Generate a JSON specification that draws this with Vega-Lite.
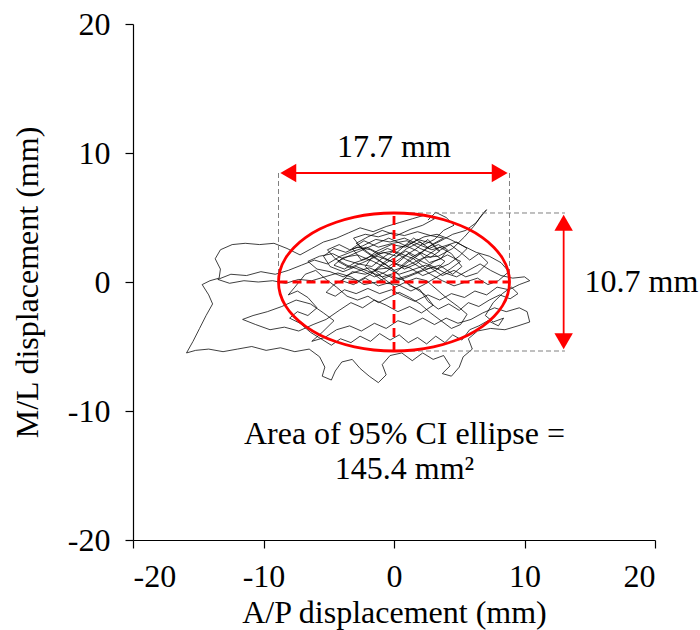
{
  "$schema": "https://vega.github.io/schema/vega-lite/v6.json",
  "autosize": "none",
  "width": 522,
  "height": 516,
  "padding": {"left": 133, "top": 24, "right": 45, "bottom": 90},
  "background": "white",
  "config": {
    "view": {"stroke": null},
    "font": "Liberation Serif",
    "axis": {
      "domainColor": "black", "tickColor": "black", "domainWidth": 1.2, "tickWidth": 1.2,
      "tickSize": 8, "grid": false, "labelFont": "Liberation Serif", "labelFontSize": 32,
      "labelColor": "black", "titleFont": "Liberation Serif", "titleFontSize": 32,
      "titleFontWeight": "normal", "titleColor": "black", "labelPadding": 13
    }
  },
  "datasets": {
    "path": [
      {"i":0,"x":0.5,"y":1.2},{"i":1,"x":1.2,"y":1.8},{"i":2,"x":2.0,"y":2.3},{"i":3,"x":2.8,"y":1.9},{"i":4,"x":3.5,"y":2.4},{"i":5,"x":2.9,"y":3.0},{"i":6,"x":1.8,"y":3.3},{"i":7,"x":0.9,"y":2.7},{"i":8,"x":-0.2,"y":2.9},{"i":9,"x":-1.3,"y":2.4},
      {"i":10,"x":-2.1,"y":1.8},{"i":11,"x":-3.0,"y":1.5},{"i":12,"x":-3.8,"y":1.0},{"i":13,"x":-4.6,"y":1.3},{"i":14,"x":-3.9,"y":1.9},{"i":15,"x":-2.8,"y":2.1},{"i":16,"x":-1.6,"y":1.6},{"i":17,"x":-0.6,"y":1.1},{"i":18,"x":0.4,"y":0.6},{"i":19,"x":1.3,"y":0.9},
      {"i":20,"x":2.4,"y":1.3},{"i":21,"x":3.3,"y":1.0},{"i":22,"x":4.2,"y":1.4},{"i":23,"x":5.0,"y":2.0},{"i":24,"x":5.6,"y":2.6},{"i":25,"x":4.8,"y":3.1},{"i":26,"x":3.9,"y":2.8},{"i":27,"x":2.9,"y":2.5},{"i":28,"x":1.9,"y":2.9},{"i":29,"x":0.8,"y":3.4},
      {"i":30,"x":-0.3,"y":3.1},{"i":31,"x":-1.4,"y":3.3},{"i":32,"x":-2.4,"y":2.8},{"i":33,"x":-3.4,"y":2.5},{"i":34,"x":-4.2,"y":2.9},{"i":35,"x":-5.1,"y":2.5},{"i":36,"x":-4.5,"y":1.8},{"i":37,"x":-3.6,"y":1.3},{"i":38,"x":-2.5,"y":0.9},{"i":39,"x":-1.5,"y":0.4},
      {"i":40,"x":-0.6,"y":0.8},{"i":41,"x":0.3,"y":1.5},{"i":42,"x":1.1,"y":2.2},{"i":43,"x":2.1,"y":1.6},{"i":44,"x":3.0,"y":1.2},{"i":45,"x":3.9,"y":0.7},{"i":46,"x":4.8,"y":0.4},{"i":47,"x":5.7,"y":0.9},{"i":48,"x":6.6,"y":1.4},{"i":49,"x":7.4,"y":0.9},
      {"i":50,"x":8.2,"y":0.5},{"i":51,"x":9.1,"y":0.3},{"i":52,"x":10.0,"y":0.4},{"i":53,"x":10.4,"y":0.1},{"i":54,"x":9.6,"y":-0.2},{"i":55,"x":8.8,"y":-0.6},{"i":56,"x":7.9,"y":-0.4},{"i":57,"x":7.1,"y":-1.0},{"i":58,"x":6.2,"y":-0.7},{"i":59,"x":5.4,"y":-1.2},
      {"i":60,"x":4.4,"y":-0.9},{"i":61,"x":3.5,"y":-1.4},{"i":62,"x":2.6,"y":-1.0},{"i":63,"x":1.6,"y":-1.5},{"i":64,"x":0.7,"y":-1.1},{"i":65,"x":-0.2,"y":-0.6},{"i":66,"x":-1.1,"y":-0.9},{"i":67,"x":-2.0,"y":-0.5},{"i":68,"x":-2.9,"y":-0.9},{"i":69,"x":-3.8,"y":-0.6},
      {"i":70,"x":-4.5,"y":-1.1},{"i":71,"x":-5.2,"y":-0.8},{"i":72,"x":-4.6,"y":-0.2},{"i":73,"x":-3.7,"y":0.3},{"i":74,"x":-2.7,"y":0.1},{"i":75,"x":-1.8,"y":0.6},{"i":76,"x":-0.9,"y":1.3},{"i":77,"x":0.1,"y":1.9},{"i":78,"x":0.9,"y":2.4},{"i":79,"x":1.7,"y":2.0},
      {"i":80,"x":2.6,"y":2.7},{"i":81,"x":3.6,"y":3.2},{"i":82,"x":4.5,"y":3.7},{"i":83,"x":5.5,"y":4.0},{"i":84,"x":6.3,"y":4.6},{"i":85,"x":6.8,"y":5.3},{"i":86,"x":7.1,"y":5.6},{"i":87,"x":6.6,"y":5.0},{"i":88,"x":6.1,"y":4.3},{"i":89,"x":5.4,"y":3.5},
      {"i":90,"x":4.5,"y":2.6},{"i":91,"x":3.4,"y":2.0},{"i":92,"x":2.3,"y":1.9},{"i":93,"x":1.1,"y":1.3},{"i":94,"x":0.0,"y":0.9},{"i":95,"x":-1.0,"y":1.6},{"i":96,"x":-2.0,"y":2.3},{"i":97,"x":-2.9,"y":3.0},{"i":98,"x":-2.0,"y":3.5},{"i":99,"x":-0.9,"y":4.0},
      {"i":100,"x":0.2,"y":3.6},{"i":101,"x":1.3,"y":4.1},{"i":102,"x":2.2,"y":4.4},{"i":103,"x":3.1,"y":4.9},{"i":104,"x":2.4,"y":5.2},{"i":105,"x":1.4,"y":4.9},{"i":106,"x":0.4,"y":4.6},{"i":107,"x":-0.6,"y":4.3},{"i":108,"x":-1.6,"y":3.9},{"i":109,"x":-2.6,"y":4.2},
      {"i":110,"x":-3.5,"y":3.8},{"i":111,"x":-4.4,"y":3.4},{"i":112,"x":-5.4,"y":3.1},{"i":113,"x":-6.3,"y":2.6},{"i":114,"x":-7.2,"y":2.1},{"i":115,"x":-8.2,"y":2.6},{"i":116,"x":-9.2,"y":3.0},{"i":117,"x":-10.3,"y":2.9},{"i":118,"x":-11.4,"y":3.0},{"i":119,"x":-12.4,"y":2.9},
      {"i":120,"x":-13.3,"y":2.5},{"i":121,"x":-13.7,"y":1.8},{"i":122,"x":-13.3,"y":1.0},{"i":123,"x":-13.4,"y":0.3},{"i":124,"x":-14.1,"y":0.1},{"i":125,"x":-14.7,"y":-0.2},{"i":126,"x":-14.2,"y":-1.0},{"i":127,"x":-13.9,"y":-1.7},{"i":128,"x":-14.4,"y":-2.6},{"i":129,"x":-14.9,"y":-3.6},
      {"i":130,"x":-15.4,"y":-4.6},{"i":131,"x":-15.9,"y":-5.5},{"i":132,"x":-15.2,"y":-5.3},{"i":133,"x":-14.2,"y":-5.2},{"i":134,"x":-13.1,"y":-5.4},{"i":135,"x":-12.0,"y":-5.2},{"i":136,"x":-10.9,"y":-5.0},{"i":137,"x":-9.8,"y":-5.3},{"i":138,"x":-8.7,"y":-5.1},{"i":139,"x":-7.6,"y":-5.4},
      {"i":140,"x":-6.5,"y":-5.2},{"i":141,"x":-5.7,"y":-5.8},{"i":142,"x":-5.3,"y":-6.6},{"i":143,"x":-5.5,"y":-7.3},{"i":144,"x":-4.8,"y":-7.6},{"i":145,"x":-4.5,"y":-6.9},{"i":146,"x":-4.0,"y":-6.2},{"i":147,"x":-3.2,"y":-6.0},{"i":148,"x":-2.6,"y":-6.7},{"i":149,"x":-1.9,"y":-7.3},
      {"i":150,"x":-1.2,"y":-7.8},{"i":151,"x":-0.6,"y":-7.2},{"i":152,"x":-0.9,"y":-6.4},{"i":153,"x":-0.3,"y":-5.7},{"i":154,"x":0.6,"y":-5.5},{"i":155,"x":1.4,"y":-6.1},{"i":156,"x":2.2,"y":-5.5},{"i":157,"x":3.0,"y":-6.0},{"i":158,"x":3.8,"y":-5.7},{"i":159,"x":4.3,"y":-6.5},
      {"i":160,"x":3.7,"y":-7.1},{"i":161,"x":4.4,"y":-7.3},{"i":162,"x":5.0,"y":-6.6},{"i":163,"x":5.3,"y":-5.8},{"i":164,"x":6.0,"y":-5.2},{"i":165,"x":5.7,"y":-4.4},{"i":166,"x":6.4,"y":-3.8},{"i":167,"x":7.4,"y":-3.6},{"i":168,"x":8.5,"y":-3.7},{"i":169,"x":9.5,"y":-3.4},
      {"i":170,"x":10.4,"y":-3.1},{"i":171,"x":10.2,"y":-2.3},{"i":172,"x":9.6,"y":-2.0},{"i":173,"x":8.6,"y":-2.3},{"i":174,"x":7.7,"y":-2.0},{"i":175,"x":6.8,"y":-2.4},{"i":176,"x":5.9,"y":-2.9},{"i":177,"x":4.9,"y":-3.2},{"i":178,"x":4.0,"y":-2.8},{"i":179,"x":3.1,"y":-3.3},
      {"i":180,"x":2.2,"y":-2.8},{"i":181,"x":1.2,"y":-3.3},{"i":182,"x":0.3,"y":-3.0},{"i":183,"x":-0.6,"y":-3.6},{"i":184,"x":-1.5,"y":-3.2},{"i":185,"x":-2.5,"y":-3.8},{"i":186,"x":-3.4,"y":-3.4},{"i":187,"x":-4.4,"y":-3.7},{"i":188,"x":-5.3,"y":-4.3},{"i":189,"x":-6.3,"y":-4.6},
      {"i":190,"x":-5.5,"y":-3.9},{"i":191,"x":-4.6,"y":-3.0},{"i":192,"x":-5.4,"y":-2.4},{"i":193,"x":-6.4,"y":-1.7},{"i":194,"x":-7.5,"y":-1.4},{"i":195,"x":-8.6,"y":-1.9},{"i":196,"x":-9.7,"y":-2.3},{"i":197,"x":-10.8,"y":-2.6},{"i":198,"x":-11.6,"y":-2.9},{"i":199,"x":-10.6,"y":-3.3},
      {"i":200,"x":-9.5,"y":-3.7},{"i":201,"x":-8.4,"y":-3.5},{"i":202,"x":-7.3,"y":-3.8},{"i":203,"x":-6.2,"y":-3.3},{"i":204,"x":-5.2,"y":-2.9},{"i":205,"x":-4.2,"y":-2.2},{"i":206,"x":-3.3,"y":-1.6},{"i":207,"x":-2.4,"y":-2.0},{"i":208,"x":-1.5,"y":-1.4},{"i":209,"x":-0.6,"y":-1.8},
      {"i":210,"x":0.3,"y":-2.3},{"i":211,"x":1.2,"y":-1.9},{"i":212,"x":2.1,"y":-2.4},{"i":213,"x":3.0,"y":-1.8},{"i":214,"x":2.4,"y":-1.0},{"i":215,"x":1.5,"y":-0.4},{"i":216,"x":0.6,"y":0.2},{"i":217,"x":-0.3,"y":0.5},{"i":218,"x":-1.3,"y":0.0},{"i":219,"x":-2.3,"y":-0.2},
      {"i":220,"x":-3.3,"y":0.4},{"i":221,"x":-4.3,"y":0.7},{"i":222,"x":-5.3,"y":0.4},{"i":223,"x":-6.3,"y":0.1},{"i":224,"x":-7.3,"y":0.2},{"i":225,"x":-8.3,"y":-0.1},{"i":226,"x":-9.3,"y":0.1},{"i":227,"x":-10.4,"y":0.0},{"i":228,"x":-11.5,"y":0.1},{"i":229,"x":-12.6,"y":-0.1},
      {"i":230,"x":-13.5,"y":0.2},{"i":231,"x":-12.5,"y":0.6},{"i":232,"x":-11.3,"y":0.5},{"i":233,"x":-10.2,"y":0.8},{"i":234,"x":-9.1,"y":0.6},{"i":235,"x":-8.1,"y":0.9},{"i":236,"x":-7.1,"y":1.3},{"i":237,"x":-6.1,"y":1.7},{"i":238,"x":-5.1,"y":1.4},{"i":239,"x":-4.1,"y":2.0},
      {"i":240,"x":-3.1,"y":2.4},{"i":241,"x":-2.1,"y":2.7},{"i":242,"x":-1.1,"y":2.2},{"i":243,"x":-0.1,"y":2.4},{"i":244,"x":0.9,"y":1.8},{"i":245,"x":1.9,"y":1.2},{"i":246,"x":2.8,"y":0.6},{"i":247,"x":3.7,"y":0.1},{"i":248,"x":4.6,"y":-0.3},{"i":249,"x":5.5,"y":0.0},
      {"i":250,"x":6.4,"y":0.3},{"i":251,"x":7.2,"y":-0.2},{"i":252,"x":8.0,"y":0.1},{"i":253,"x":8.8,"y":0.8},{"i":254,"x":8.2,"y":1.5},{"i":255,"x":7.3,"y":2.0},{"i":256,"x":6.3,"y":2.3},{"i":257,"x":5.3,"y":2.8},{"i":258,"x":4.3,"y":3.3},{"i":259,"x":3.3,"y":3.7},
      {"i":260,"x":2.3,"y":3.5},{"i":261,"x":1.3,"y":3.0},{"i":262,"x":0.3,"y":2.6},{"i":263,"x":-0.7,"y":2.0},{"i":264,"x":-1.7,"y":1.2},{"i":265,"x":-2.7,"y":1.4},{"i":266,"x":-3.7,"y":1.7},{"i":267,"x":-4.7,"y":2.2},{"i":268,"x":-5.7,"y":2.0},{"i":269,"x":-6.6,"y":1.6},
      {"i":270,"x":-5.9,"y":1.0},{"i":271,"x":-4.9,"y":0.8},{"i":272,"x":-3.9,"y":0.4},{"i":273,"x":-2.9,"y":0.8},{"i":274,"x":-1.9,"y":1.1},{"i":275,"x":-0.9,"y":0.7},{"i":276,"x":0.1,"y":0.2},{"i":277,"x":1.1,"y":0.5},{"i":278,"x":2.1,"y":0.9},{"i":279,"x":3.1,"y":1.6},
      {"i":280,"x":4.1,"y":2.1},{"i":281,"x":5.1,"y":1.6},{"i":282,"x":4.3,"y":1.0},{"i":283,"x":3.3,"y":0.4},{"i":284,"x":2.3,"y":-0.2},{"i":285,"x":1.3,"y":-0.7},{"i":286,"x":0.3,"y":-0.2},{"i":287,"x":-0.6,"y":-0.1},
      {"i":288,"x":-1.4,"y":0.5},{"i":289,"x":-2.2,"y":1.2},{"i":290,"x":-1.7,"y":1.9},{"i":291,"x":-0.8,"y":2.3},{"i":292,"x":0.2,"y":2.0},{"i":293,"x":1.0,"y":2.6},{"i":294,"x":2.0,"y":3.1},{"i":295,"x":2.7,"y":2.6},{"i":296,"x":3.4,"y":2.9},{"i":297,"x":4.1,"y":2.5},
      {"i":298,"x":3.6,"y":1.8},{"i":299,"x":2.7,"y":1.5},{"i":300,"x":1.8,"y":2.4},{"i":301,"x":0.7,"y":2.9},{"i":302,"x":-0.4,"y":3.4},{"i":303,"x":-1.5,"y":2.9},{"i":304,"x":-2.6,"y":2.4},{"i":305,"x":-3.5,"y":2.0},{"i":306,"x":-4.3,"y":1.6},{"i":307,"x":-3.4,"y":1.1},
      {"i":308,"x":-2.4,"y":1.5},{"i":309,"x":-1.3,"y":2.0},{"i":310,"x":-0.2,"y":1.6},{"i":311,"x":0.8,"y":1.0},{"i":312,"x":1.7,"y":1.4},{"i":313,"x":2.6,"y":2.1},{"i":314,"x":3.5,"y":2.7},{"i":315,"x":4.4,"y":2.2},{"i":316,"x":5.2,"y":1.2},{"i":317,"x":4.5,"y":0.6},
      {"i":318,"x":3.5,"y":1.3},{"i":319,"x":2.5,"y":1.0},{"i":320,"x":1.5,"y":1.8},{"i":321,"x":0.5,"y":2.2},{"i":322,"x":-0.5,"y":2.6},{"i":323,"x":-1.5,"y":2.1},{"i":324,"x":-2.5,"y":1.7},{"i":325,"x":-3.2,"y":2.6},{"i":326,"x":-2.3,"y":3.2},{"i":327,"x":-1.2,"y":2.7},
      {"i":328,"x":-0.1,"y":3.0},{"i":329,"x":1.0,"y":3.2},{"i":330,"x":2.0,"y":2.6},{"i":331,"x":3.0,"y":2.2},{"i":332,"x":3.9,"y":1.6},{"i":333,"x":3.2,"y":0.9},{"i":334,"x":2.2,"y":0.5},{"i":335,"x":1.2,"y":1.1},{"i":336,"x":0.2,"y":1.4},{"i":337,"x":-0.8,"y":1.9},
      {"i":338,"x":-1.8,"y":2.5},{"i":339,"x":-2.8,"y":2.7},{"i":340,"x":-3.7,"y":2.3},{"i":341,"x":-4.6,"y":2.6},{"i":342,"x":-5.4,"y":2.0},{"i":343,"x":-4.9,"y":1.2},{"i":344,"x":-3.9,"y":0.8},{"i":345,"x":-2.9,"y":1.2},{"i":346,"x":-1.9,"y":0.8},{"i":347,"x":-0.9,"y":0.4},
      {"i":348,"x":0.1,"y":0.7},{"i":349,"x":1.0,"y":1.5},{"i":350,"x":1.9,"y":2.1},{"i":351,"x":2.9,"y":2.9},{"i":352,"x":3.8,"y":3.4},{"i":353,"x":2.8,"y":3.6},{"i":354,"x":1.8,"y":3.9},{"i":355,"x":0.8,"y":3.6},{"i":356,"x":-0.2,"y":3.8},{"i":357,"x":-1.2,"y":3.5},
      {"i":358,"x":-2.2,"y":3.7},{"i":359,"x":-3.1,"y":3.4},{"i":360,"x":-2.4,"y":2.5},{"i":361,"x":-1.4,"y":1.8},{"i":362,"x":-0.4,"y":1.2},{"i":363,"x":0.6,"y":1.9},{"i":364,"x":1.6,"y":2.5},{"i":365,"x":2.6,"y":3.3},{"i":366,"x":3.4,"y":2.4},{"i":367,"x":4.3,"y":2.9},
      {"i":368,"x":5.1,"y":2.3},{"i":369,"x":5.8,"y":1.7},{"i":370,"x":6.5,"y":2.2},{"i":371,"x":7.2,"y":1.5},{"i":372,"x":6.4,"y":0.7},{"i":373,"x":5.5,"y":0.4},{"i":374,"x":4.6,"y":0.9},{"i":375,"x":3.7,"y":0.5},{"i":376,"x":2.8,"y":1.1},{"i":377,"x":1.8,"y":0.7},
      {"i":378,"x":0.8,"y":0.3},{"i":379,"x":-0.2,"y":0.0},{"i":380,"x":-1.2,"y":-0.3},{"i":381,"x":-2.2,"y":0.3},{"i":382,"x":-3.1,"y":-0.2},{"i":383,"x":-4.0,"y":0.1},{"i":384,"x":-3.2,"y":0.8},{"i":385,"x":-2.2,"y":0.6},{"i":386,"x":-1.2,"y":1.0},{"i":387,"x":-0.2,"y":1.1},
      {"i":388,"x":0.5,"y":0.4},{"i":389,"x":1.2,"y":-0.3},{"i":390,"x":2.0,"y":-0.6},{"i":391,"x":2.6,"y":-1.5},{"i":392,"x":3.4,"y":-2.1},{"i":393,"x":4.2,"y":-1.7},{"i":394,"x":5.0,"y":-2.2},{"i":395,"x":5.7,"y":-1.6},{"i":396,"x":6.5,"y":-1.9},{"i":397,"x":7.3,"y":-1.4},
      {"i":398,"x":8.1,"y":-1.0},{"i":399,"x":8.9,"y":-1.3},{"i":400,"x":9.5,"y":-0.9},{"i":401,"x":9.0,"y":-0.4},{"i":402,"x":8.3,"y":-0.9},{"i":403,"x":7.6,"y":-1.6},{"i":404,"x":7.0,"y":-2.6},{"i":405,"x":7.6,"y":-3.1},{"i":406,"x":8.4,"y":-2.8},{"i":407,"x":8.0,"y":-3.4},
      {"i":408,"x":7.2,"y":-3.0},{"i":409,"x":6.5,"y":-3.4},{"i":410,"x":5.8,"y":-3.7},{"i":411,"x":5.2,"y":-4.5},{"i":412,"x":4.5,"y":-4.1},{"i":413,"x":3.9,"y":-4.7},{"i":414,"x":3.2,"y":-4.2},{"i":415,"x":2.5,"y":-4.8},{"i":416,"x":1.8,"y":-4.3},{"i":417,"x":1.1,"y":-4.7},
      {"i":418,"x":0.4,"y":-4.1},{"i":419,"x":-0.3,"y":-4.5},{"i":420,"x":-1.1,"y":-4.0},{"i":421,"x":-1.8,"y":-4.6},{"i":422,"x":-2.6,"y":-4.2},{"i":423,"x":-3.3,"y":-4.7},{"i":424,"x":-4.1,"y":-4.4},{"i":425,"x":-4.8,"y":-4.9},{"i":426,"x":-5.6,"y":-4.4},{"i":427,"x":-6.4,"y":-3.9},
      {"i":428,"x":-7.2,"y":-3.2},{"i":429,"x":-8.0,"y":-2.8},{"i":430,"x":-7.4,"y":-2.3},{"i":431,"x":-6.6,"y":-2.6},{"i":432,"x":-5.9,"y":-2.0},{"i":433,"x":-6.6,"y":-1.2},{"i":434,"x":-7.4,"y":-0.7},{"i":435,"x":-8.1,"y":-1.0},{"i":436,"x":-7.6,"y":-0.4},{"i":437,"x":-6.8,"y":0.6},
      {"i":438,"x":-6.0,"y":0.9},{"i":439,"x":-5.2,"y":0.2},{"i":440,"x":-4.4,"y":-0.4},{"i":441,"x":-3.6,"y":-1.1},{"i":442,"x":-2.8,"y":-1.4},{"i":443,"x":-2.0,"y":-1.1},{"i":444,"x":-1.2,"y":-1.6},{"i":445,"x":-0.4,"y":-1.2},{"i":446,"x":0.4,"y":-0.8},{"i":447,"x":1.2,"y":-1.2},
      {"i":448,"x":2.0,"y":-1.7},{"i":449,"x":2.8,"y":-2.4},{"i":450,"x":3.6,"y":-3.0},{"i":451,"x":4.4,"y":-3.6},{"i":452,"x":5.1,"y":-3.3},{"i":453,"x":5.6,"y":-2.5},{"i":454,"x":4.9,"y":-1.9},{"i":455,"x":4.1,"y":-1.3},{"i":456,"x":3.3,"y":-0.6},{"i":457,"x":2.5,"y":0.1},
      {"i":458,"x":1.7,"y":0.3},{"i":459,"x":0.9,"y":0.0},{"i":460,"x":0.1,"y":-0.4},{"i":461,"x":-0.7,"y":0.2},{"i":462,"x":-1.5,"y":0.9},{"i":463,"x":-0.8,"y":1.5},{"i":464,"x":0.0,"y":2.1},{"i":465,"x":0.8,"y":2.8},{"i":466,"x":1.5,"y":3.4},{"i":467,"x":2.3,"y":2.9},
      {"i":468,"x":3.1,"y":3.3},{"i":469,"x":3.8,"y":4.0},{"i":470,"x":4.6,"y":4.4},{"i":471,"x":4.0,"y":5.0},{"i":472,"x":3.2,"y":5.4},{"i":473,"x":2.6,"y":4.8}
    ],
    "ellipse": [
      {"k":0,"x":8.85,"y":0},{"k":1,"x":8.72,"y":0.93},{"k":2,"x":8.32,"y":1.83},{"k":3,"x":7.66,"y":2.68},{"k":4,"x":6.78,"y":3.44},{"k":5,"x":5.69,"y":4.10},{"k":6,"x":4.43,"y":4.63},{"k":7,"x":3.03,"y":5.03},{"k":8,"x":1.54,"y":5.27},{"k":9,"x":0,"y":5.35},
      {"k":10,"x":-1.54,"y":5.27},{"k":11,"x":-3.03,"y":5.03},{"k":12,"x":-4.43,"y":4.63},{"k":13,"x":-5.69,"y":4.10},{"k":14,"x":-6.78,"y":3.44},{"k":15,"x":-7.66,"y":2.68},{"k":16,"x":-8.32,"y":1.83},{"k":17,"x":-8.72,"y":0.93},{"k":18,"x":-8.85,"y":0},
      {"k":19,"x":-8.72,"y":-0.93},{"k":20,"x":-8.32,"y":-1.83},{"k":21,"x":-7.66,"y":-2.68},{"k":22,"x":-6.78,"y":-3.44},{"k":23,"x":-5.69,"y":-4.10},{"k":24,"x":-4.43,"y":-4.63},{"k":25,"x":-3.03,"y":-5.03},{"k":26,"x":-1.54,"y":-5.27},{"k":27,"x":0,"y":-5.35},
      {"k":28,"x":1.54,"y":-5.27},{"k":29,"x":3.03,"y":-5.03},{"k":30,"x":4.43,"y":-4.63},{"k":31,"x":5.69,"y":-4.10},{"k":32,"x":6.78,"y":-3.44},{"k":33,"x":7.66,"y":-2.68},{"k":34,"x":8.32,"y":-1.83},{"k":35,"x":8.72,"y":-0.93}
    ],
    "grayDash": [
      {"x1":-8.85,"y1":8.45,"x2":-8.85,"y2":0},
      {"x1":8.85,"y1":8.45,"x2":8.85,"y2":0},
      {"x1":0,"y1":5.35,"x2":13.1,"y2":5.35},
      {"x1":0,"y1":-5.35,"x2":13.1,"y2":-5.35}
    ],
    "redDash": [
      {"x1":-8.85,"y1":0,"x2":8.85,"y2":0},
      {"x1":0,"y1":-5.35,"x2":0,"y2":5.35}
    ],
    "arrows": [
      {"x1":-8.3,"y1":8.45,"x2":8.3,"y2":8.45},
      {"x1":13.0,"y1":4.8,"x2":13.0,"y2":-4.8}
    ],
    "heads": [
      {"x":-8.1,"y":8.45,"dir":"triangle-left"},
      {"x":8.1,"y":8.45,"dir":"triangle-right"},
      {"x":13.0,"y":4.6,"dir":"triangle-up"},
      {"x":13.0,"y":-4.6,"dir":"triangle-down"}
    ],
    "labelsC": [
      {"x":0,"y":10.5,"t":"17.7 mm"},
      {"x":0.8,"y":-11.75,"t":"Area of 95% CI ellipse ="},
      {"x":0.8,"y":-14.5,"t":"145.4 mm²"}
    ],
    "labelsL": [
      {"x":14.6,"y":0,"t":"10.7 mm"}
    ]
  },
  "layer": [
    {
      "data": {"name": "path"},
      "mark": {"type": "line", "stroke": "black", "strokeWidth": 0.75},
      "encoding": {
        "x": {"field": "x", "type": "quantitative", "scale": {"domain": [-20, 20], "nice": false, "zero": false},
              "axis": {"values": [-20, -10, 0, 10, 20], "labelExpr": "'' + datum.value", "title": "A/P displacement (mm)", "titlePadding": 5}},
        "y": {"field": "y", "type": "quantitative", "scale": {"domain": [-20, 20], "nice": false, "zero": false},
              "axis": {"values": [-20, -10, 0, 10, 20], "labelExpr": "'' + datum.value", "title": "M/L displacement (mm)", "labelPadding": 15, "titlePadding": 23}},
        "order": {"field": "i", "type": "quantitative"}
      }
    },
    {
      "data": {"name": "grayDash"},
      "mark": {"type": "rule", "stroke": "#808080", "strokeWidth": 1, "strokeDash": [5, 3]},
      "encoding": {
        "x": {"field": "x1", "type": "quantitative"}, "y": {"field": "y1", "type": "quantitative"},
        "x2": {"field": "x2"}, "y2": {"field": "y2"}
      }
    },
    {
      "data": {"name": "ellipse"},
      "mark": {"type": "line", "stroke": "#ff0000", "strokeWidth": 2.8, "interpolate": "cardinal-closed"},
      "encoding": {
        "x": {"field": "x", "type": "quantitative"}, "y": {"field": "y", "type": "quantitative"},
        "order": {"field": "k", "type": "quantitative"}
      }
    },
    {
      "data": {"name": "redDash"},
      "mark": {"type": "rule", "stroke": "#ff0000", "strokeWidth": 2.8, "strokeDash": [9, 5]},
      "encoding": {
        "x": {"field": "x1", "type": "quantitative"}, "y": {"field": "y1", "type": "quantitative"},
        "x2": {"field": "x2"}, "y2": {"field": "y2"}
      }
    },
    {
      "data": {"name": "arrows"},
      "mark": {"type": "rule", "stroke": "#ff0000", "strokeWidth": 1.8},
      "encoding": {
        "x": {"field": "x1", "type": "quantitative"}, "y": {"field": "y1", "type": "quantitative"},
        "x2": {"field": "x2"}, "y2": {"field": "y2"}
      }
    },
    {
      "data": {"name": "heads"},
      "mark": {"type": "point", "filled": true, "fill": "#ff0000", "stroke": null, "size": 340, "opacity": 1},
      "encoding": {
        "x": {"field": "x", "type": "quantitative"}, "y": {"field": "y", "type": "quantitative"},
        "shape": {"field": "dir", "type": "nominal", "scale": null}
      }
    },
    {
      "data": {"name": "labelsC"},
      "mark": {"type": "text", "font": "Liberation Serif", "fontSize": 32, "color": "black", "baseline": "middle", "align": "center"},
      "encoding": {
        "x": {"field": "x", "type": "quantitative"}, "y": {"field": "y", "type": "quantitative"},
        "text": {"field": "t"}
      }
    },
    {
      "data": {"name": "labelsL"},
      "mark": {"type": "text", "font": "Liberation Serif", "fontSize": 32, "color": "black", "baseline": "middle", "align": "left"},
      "encoding": {
        "x": {"field": "x", "type": "quantitative"}, "y": {"field": "y", "type": "quantitative"},
        "text": {"field": "t"}
      }
    }
  ]
}
